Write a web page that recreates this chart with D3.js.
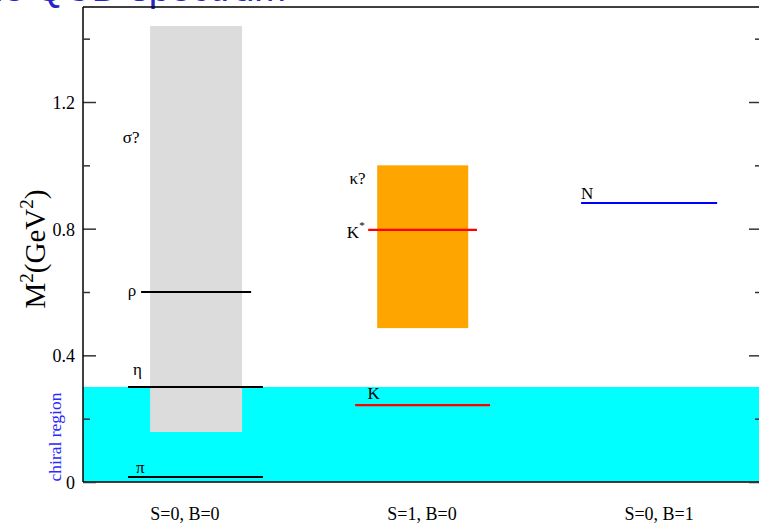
<!DOCTYPE html>
<html><head><meta charset="utf-8">
<script src="https://cdn.jsdelivr.net/npm/d3@7"></script>
<style>
html,body{margin:0;padding:0;background:#fff;overflow:hidden}
svg{display:block}
text{font-family:"Liberation Serif","Times New Roman",serif}
</style></head>
<body>
<script>
// ---- data ----
const categories = ["S=0, B=0", "S=1, B=0", "S=0, B=1"];
const categoryPos = [1, 2, 3];
const yTicksMajor = [0, 0.4, 0.8, 1.2];
const yTicksMinor = [0.2, 0.6, 1.0, 1.4];
const yTickLabels = ["0", "0.4", "0.8", "1.2"];
// bands: [x0, x1, y0, y1]
const chiralBand = [0.57, 3.43, 0, 0.30];
const sigmaBand = [0.853, 1.241, 0.158, 1.44];
const kappaBand = [1.811, 2.195, 0.486, 1.0];
// states: name, x0, x1, mass^2, colour group
const stateNames = ["π", "η", "ρ", "K", "K*", "N"];
const stateX0 = [0.760, 0.760, 0.815, 1.718, 1.773, 2.671];
const stateX1 = [1.329, 1.329, 1.279, 2.287, 2.232, 3.245];
const stateM2 = [0.0158, 0.30, 0.60, 0.243, 0.796, 0.881];
const stateColors = ["#000000", "#000000", "#000000", "#ff0000", "#ff0000", "#0000ff"];
// text labels: text, x, y (data units)
const labelText = ["σ?", "κ?", "π", "η", "ρ", "K", "K", "N"];
const labelX = [0.738, 1.694, 0.794, 0.781, 0.759, 1.770, 1.683, 2.671];
const labelY = [1.07, 0.94, 0.028, 0.337, 0.587, 0.261, 0.77, 0.895];

const W = 759, H = 526;
const svg = d3.select("body").append("svg").attr("width", W).attr("height", H);

const x = d3.scaleLinear().domain([0.57, 3.43]).range([83, 761]);
const y = d3.scaleLinear().domain([0, 1.5]).range([482, 7]);

// title (clipped at top)
svg.append("text").attr("x", 286).attr("y", 1).attr("text-anchor", "end")
  .style("font-family", "'Liberation Sans',Arial,sans-serif").style("font-size", "38px")
  .attr("fill", "#2424c8").text("The QCD spectrum");

// chiral region
svg.append("rect").attr("x", x(chiralBand[0])).attr("width", x(chiralBand[1]) - x(chiralBand[0]))
  .attr("y", y(chiralBand[3])).attr("height", y(chiralBand[2]) - y(chiralBand[3])).attr("fill", "#00ffff");
// sigma band
svg.append("rect").attr("x", x(sigmaBand[0])).attr("width", x(sigmaBand[1]) - x(sigmaBand[0]))
  .attr("y", y(sigmaBand[3])).attr("height", y(sigmaBand[2]) - y(sigmaBand[3])).attr("fill", "#dcdcdc");
// kappa band
svg.append("rect").attr("x", x(kappaBand[0])).attr("width", x(kappaBand[1]) - x(kappaBand[0]))
  .attr("y", y(kappaBand[3])).attr("height", y(kappaBand[2]) - y(kappaBand[3])).attr("fill", "#ffa500");

// state lines
svg.selectAll("line.state").data(stateNames).enter().append("line").attr("class", "state")
  .attr("x1", (d, i) => x(stateX0[i])).attr("x2", (d, i) => x(stateX1[i]))
  .attr("y1", (d, i) => y(stateM2[i])).attr("y2", (d, i) => y(stateM2[i]))
  .attr("stroke", (d, i) => stateColors[i]).attr("stroke-width", 2.2);

// axes frame
const frame = svg.append("g");
frame.append("line").attr("x1", 83).attr("x2", 761).attr("y1", 7).attr("y2", 7).attr("stroke", "#000").attr("stroke-width", 1.5);
frame.append("line").attr("x1", 83).attr("x2", 761).attr("y1", 482).attr("y2", 482).attr("stroke", "#000").attr("stroke-width", 1.5);

// left axis (ticks inward)
const leftMajor = svg.append("g").attr("transform", "translate(83,0)")
  .call(d3.axisRight(y).tickValues(yTicksMajor).tickSize(13).tickFormat(""));
const leftMinor = svg.append("g").attr("transform", "translate(83,0)")
  .call(d3.axisRight(y).tickValues(yTicksMinor).tickSize(7).tickFormat(""));
// right axis (ticks inward)
const rightMajor = svg.append("g").attr("transform", "translate(761,0)")
  .call(d3.axisLeft(y).tickValues(yTicksMajor).tickSize(12).tickFormat(""));
const rightMinor = svg.append("g").attr("transform", "translate(761,0)")
  .call(d3.axisLeft(y).tickValues(yTicksMinor).tickSize(6).tickFormat(""));
[leftMajor, leftMinor, rightMajor, rightMinor].forEach(g => {
  g.selectAll(".tick line").attr("stroke", "#333").attr("stroke-width", 1.5);
  g.select(".domain").remove();
});
leftMajor.append("line").attr("x1", 0).attr("x2", 0).attr("y1", 7).attr("y2", 482).attr("stroke", "#000").attr("stroke-width", 1.5);

// y tick labels
svg.selectAll("text.ytl").data(yTicksMajor).enter().append("text").attr("class", "ytl")
  .attr("x", 75).attr("y", d => y(d) + 7).attr("text-anchor", "end")
  .style("font-size", "18px").attr("fill", "#000").text((d, i) => yTickLabels[i]);

// category labels
svg.selectAll("text.cat").data(categories).enter().append("text").attr("class", "cat")
  .attr("x", (d, i) => x(categoryPos[i])).attr("y", 520).attr("text-anchor", "middle")
  .style("font-size", "18px").text(d => d);

// y axis title
const yt = svg.append("text").attr("transform", "translate(45,249) rotate(-90)")
  .attr("text-anchor", "middle").style("font-size", "29px");
yt.append("tspan").text("M");
yt.append("tspan").attr("dy", -12).style("font-size", "19px").text("2");
yt.append("tspan").attr("dy", 12).text("(GeV");
yt.append("tspan").attr("dy", -12).style("font-size", "19px").text("2");
yt.append("tspan").attr("dy", 12).text(")");

// chiral region label
svg.append("text").attr("transform", "translate(61,437) rotate(-90)").attr("text-anchor", "middle")
  .style("font-size", "17.5px").attr("fill", "#2a2aff").text("chiral region");

// state labels
const lab = svg.selectAll("text.lab").data(labelText).enter().append("text").attr("class", "lab")
  .attr("x", (d, i) => x(labelX[i])).attr("y", (d, i) => y(labelY[i]))
  .style("font-size", "17px").attr("fill", "#000");
lab.each(function(d, i) {
  const t = d3.select(this);
  if (i === 6) {
    t.append("tspan").text("K");
    t.append("tspan").attr("dy", -9).style("font-size", "11px").text("*");
  } else {
    t.text(d);
  }
});
</script>
</body></html>
